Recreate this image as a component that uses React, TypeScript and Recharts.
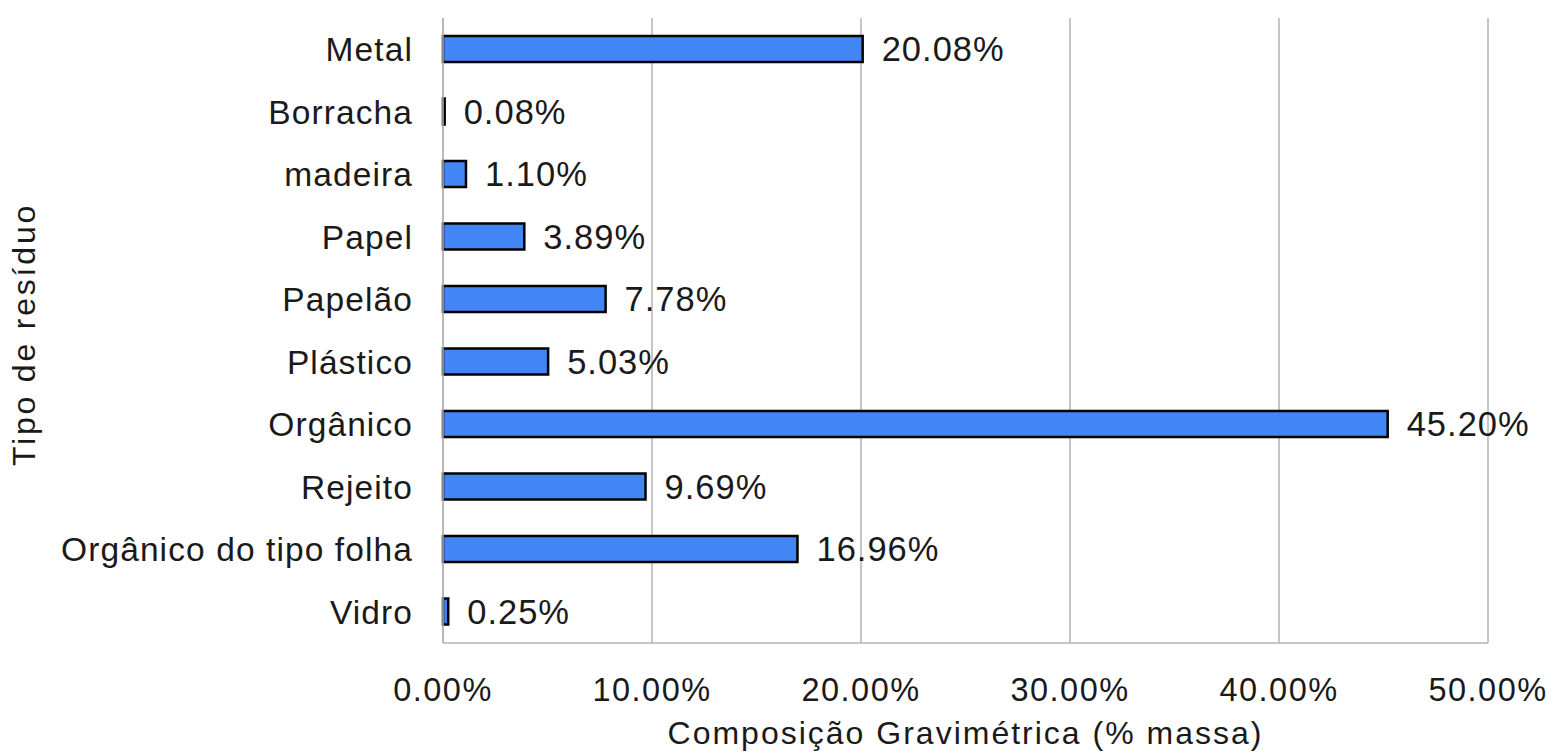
import React from "react";
import { BarChart, Bar, XAxis, YAxis, CartesianGrid, LabelList } from "recharts";

// waste types, top to bottom as in the picture
const categories = [
    "Metal",
    "Borracha",
    "madeira",
    "Papel",
    "Papelão",
    "Plástico",
    "Orgânico",
    "Rejeito",
    "Orgânico do tipo folha",
    "Vidro",
];

// % of mass
const values = [20.08, 0.08, 1.1, 3.89, 7.78, 5.03, 45.2, 9.69, 16.96, 0.25];

const xTicks = [0, 10, 20, 30, 40, 50];

const data = categories.map((name, i) => ({ name, value: values[i] }));

const FONT = "'Liberation Sans', Arial, sans-serif";
const TEXT = "#1a1a1a";
const GRID = "#b3b3b3";

const pct = (v: number) => `${Number(v).toFixed(2)}%`;

const YTitle = (props: any) => {
    const vb = props.viewBox || { x: 0, y: 0, width: 0, height: 0 };
    const cx = vb.x + 24;
    const cy = vb.y + vb.height / 2 + 4;
    return (
        <text
            x={cx}
            y={cy}
            transform={`rotate(-90 ${cx} ${cy})`}
            textAnchor="middle"
            dominantBaseline="central"
            fontFamily={FONT}
            fontSize={32}
            letterSpacing={2.8}
            fill={TEXT}
        >
            Tipo de resíduo
        </text>
    );
};

const App: React.FC = () => {
    return (
        <div style={{ width: 1553, height: 756, background: "#fff" }}>
            <style>{"body{margin:0}"}</style>
            <BarChart
                width={1553}
                height={756}
                data={data}
                layout="vertical"
                margin={{ top: 18, right: 65, bottom: 0, left: 0 }}
            >
                <CartesianGrid horizontal={false} stroke={GRID} strokeWidth={1.5} />
                <XAxis
                    type="number"
                    domain={[0, 50]}
                    ticks={xTicks}
                    tickFormatter={pct}
                    height={113}
                    tickSize={0}
                    tickMargin={35}
                    axisLine={{ stroke: GRID, strokeWidth: 1.5 }}
                    tick={{ fontSize: 32.5, fill: TEXT, fontFamily: FONT, letterSpacing: 1.5 }}
                    label={{
                        value: "Composição Gravimétrica (% massa)",
                        position: "insideBottom",
                        offset: 12,
                        fontSize: 32,
                        fill: TEXT,
                        fontFamily: FONT,
                        letterSpacing: 2,
                    }}
                />
                <YAxis
                    type="category"
                    dataKey="name"
                    width={443}
                    tickSize={0}
                    tickMargin={30}
                    axisLine={{ stroke: GRID, strokeWidth: 1.5 }}
                    tick={{ fontSize: 33.5, fill: TEXT, fontFamily: FONT, letterSpacing: 1.1 }}
                    interval={0}
                    label={<YTitle />}
                />
                <Bar
                    dataKey="value"
                    fill="#4285f4"
                    stroke="#000"
                    strokeWidth={2.5}
                    barSize={26}
                    isAnimationActive={false}
                >
                    <LabelList
                        dataKey="value"
                        position="right"
                        offset={19}
                        formatter={(v: any) => pct(v)}
                        style={{ fontSize: 34.5, fill: TEXT, fontFamily: FONT, letterSpacing: 1 }}
                    />
                </Bar>
            </BarChart>
        </div>
    );
};

export default App;
